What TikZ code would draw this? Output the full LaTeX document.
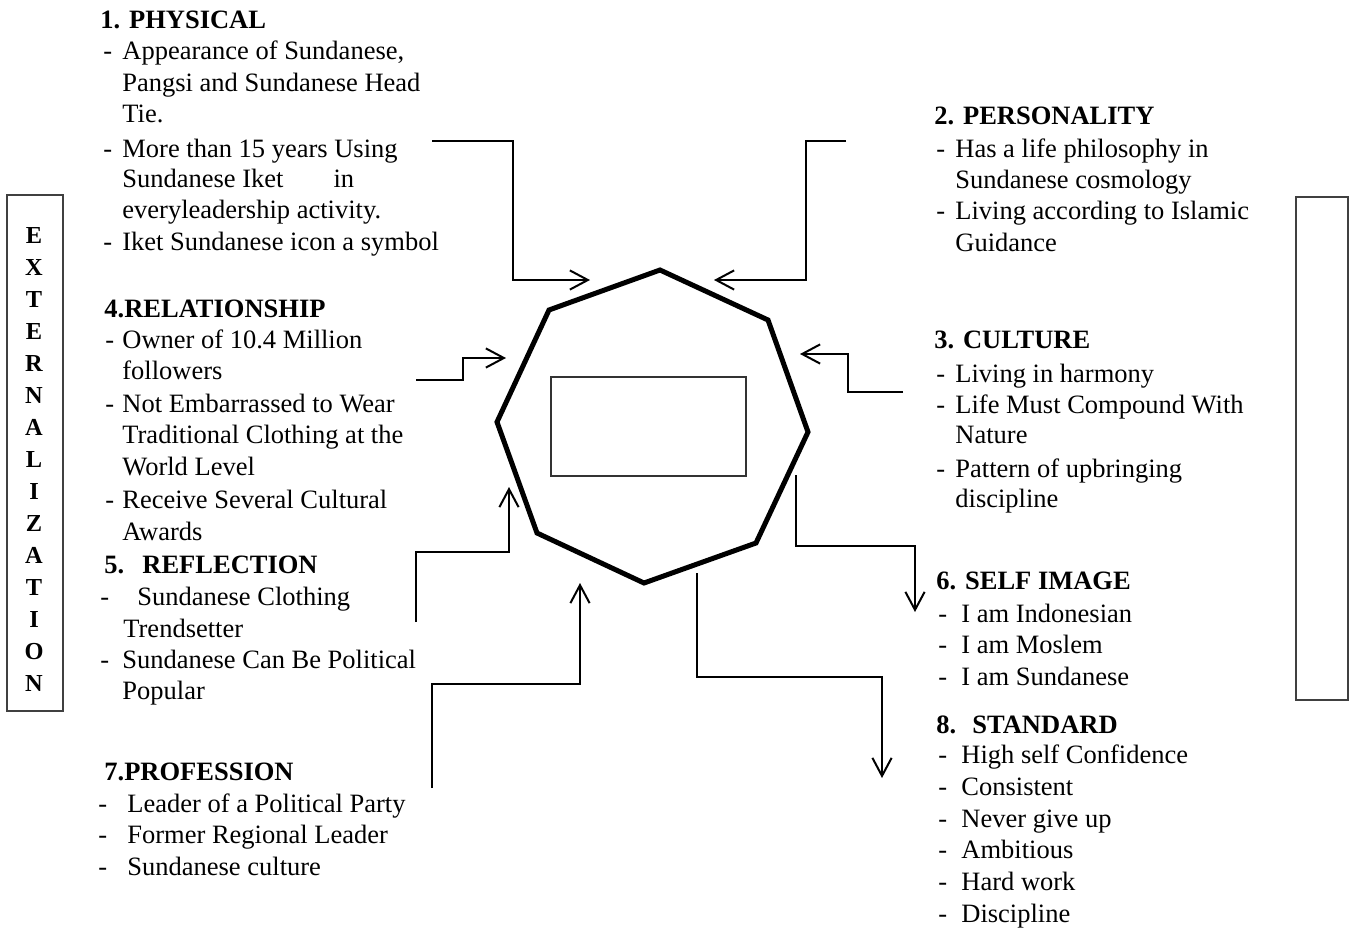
\documentclass[tikz,border=0pt]{standalone}
\usepackage{fontspec}
\setmainfont{Liberation Serif}
\usetikzlibrary{arrows.meta}
\tikzset{
  txt/.style={anchor=base west, inner sep=0pt, font=\fontsize{13.25}{16}\selectfont},
  ttl/.style={anchor=base west, inner sep=0pt, font=\fontsize{13.25}{16}\selectfont\bfseries},
  vlet/.style={anchor=base, inner sep=0pt, font=\fontsize{12.2}{14}\selectfont\bfseries},
  conn/.style={line width=1pt, line join=miter, -{Straight Barb[length=9pt, width=9.6pt, line width=1pt]}},
  sidebox/.style={draw=black!75, line width=0.6pt, inner sep=0pt},
}
\begin{document}
\begin{tikzpicture}[x=0.5pt, y=-0.5pt]
\useasboundingbox (0,0) rectangle (1349,932);

% side boxes
\node[sidebox, minimum width=28pt, minimum height=258pt] (extbox) at (35,453) {};
\node[sidebox, minimum width=26pt, minimum height=251.5pt] (rbox) at (1322,448.5) {};
\foreach \l [count=\i from 0] in {E,X,T,E,R,N,A,L,I,Z,A,T,I,O,N} {
  \node[vlet] (ext\i) at (34,243+32.07*\i) {\l};
}

% octagon
\coordinate (o1) at (660,270);
\coordinate (o2) at (768,320);
\coordinate (o3) at (808,432);
\coordinate (o4) at (756,543);
\coordinate (o5) at (644,583);
\coordinate (o6) at (537,533);
\coordinate (o7) at (497,422);
\coordinate (o8) at (549,310);
\draw[line width=2.5pt, line join=miter] (o1) -- (o2) -- (o3) -- (o4) -- (o5) -- (o6) -- (o7) -- (o8) -- cycle;
\node[draw=black!80, line width=0.6pt, minimum width=97.5pt, minimum height=49.5pt, inner sep=0pt] (core) at (648.5,426.5) {};

% connectors
\coordinate (s1) at (432,141); \coordinate (e1) at (590,280);
\draw[conn] (s1) -- (513,141) -- (513,280) -- (e1);
\coordinate (s2) at (846,141); \coordinate (e2) at (714,280);
\draw[conn] (s2) -- (806,141) -- (806,280) -- (e2);
\coordinate (s3) at (903,392); \coordinate (e3) at (800,354);
\draw[conn] (s3) -- (848,392) -- (848,354) -- (e3);
\coordinate (s4) at (416,380); \coordinate (e4) at (506,358);
\draw[conn] (s4) -- (463,380) -- (463,358) -- (e4);
\coordinate (s5) at (416,622); \coordinate (e5) at (509,487);
\draw[conn] (s5) -- (416,552) -- (509,552) -- (e5);
\coordinate (s6) at (796,475); \coordinate (e6) at (915,612);
\draw[conn] (s6) -- (796,546) -- (915,546) -- (e6);
\coordinate (s7) at (432,788); \coordinate (e7) at (580,583);
\draw[conn] (s7) -- (432,684) -- (580,684) -- (e7);
\coordinate (s8) at (697,573); \coordinate (e8) at (882,778);
\draw[conn] (s8) -- (697,677) -- (882,677) -- (e8);

% block 1
\node[ttl] (t1) at (100,28) {1. PHYSICAL};
\node[txt] (d1a) at (103,59) {-};
\node[txt] (l1a) at (122,59) {Appearance of Sundanese,};
\node[txt] (l1b) at (122,91) {Pangsi and Sundanese Head};
\node[txt] (l1c) at (122,122) {Tie.};
\node[txt] (d1b) at (103,157) {-};
\node[txt] (l1d) at (122,157) {More than 15 years Using};
\node[txt] (l1e) at (122,187) {Sundanese Iket\hspace{25pt}in};
\node[txt] (l1f) at (122,218) {everyleadership activity.};
\node[txt] (d1c) at (103,250) {-};
\node[txt] (l1g) at (122,250) {Iket Sundanese icon a symbol};

% block 2
\node[ttl] (t2) at (934,124) {2. PERSONALITY};
\node[txt] (d2a) at (936,157) {-};
\node[txt] (l2a) at (955,157) {Has a life philosophy in};
\node[txt] (l2b) at (955,188) {Sundanese cosmology};
\node[txt] (d2b) at (936,219) {-};
\node[txt] (l2c) at (955,219) {Living according to Islamic};
\node[txt] (l2d) at (955,251) {Guidance};

% block 3
\node[ttl] (t3) at (934,348) {3. CULTURE};
\node[txt] (d3a) at (936,382) {-};
\node[txt] (l3a) at (955,382) {Living in harmony};
\node[txt] (d3b) at (936,413) {-};
\node[txt] (l3b) at (955,413) {Life Must Compound With};
\node[txt] (l3c) at (955,443) {Nature};
\node[txt] (d3c) at (936,477) {-};
\node[txt] (l3d) at (955,477) {Pattern of upbringing};
\node[txt] (l3e) at (955,507) {discipline};

% block 4
\node[ttl] (t4) at (104,317) {4.RELATIONSHIP};
\node[txt] (d4a) at (105,348) {-};
\node[txt] (l4a) at (122,348) {Owner of 10.4 Million};
\node[txt] (l4b) at (122,379) {followers};
\node[txt] (d4b) at (105,412) {-};
\node[txt] (l4c) at (122,412) {Not Embarrassed to Wear};
\node[txt] (l4d) at (122,443) {Traditional Clothing at the};
\node[txt] (l4e) at (122,475) {World Level};
\node[txt] (d4c) at (105,508) {-};
\node[txt] (l4f) at (122,508) {Receive Several Cultural};
\node[txt] (l4g) at (122,540) {Awards};

% block 5
\node[ttl] (t5) at (104,573) {5.};
\node[ttl] (t5b) at (142,573) {REFLECTION};
\node[txt] (d5a) at (100,605) {-};
\node[txt] (l5a) at (137,605) {Sundanese Clothing};
\node[txt] (l5b) at (123,637) {Trendsetter};
\node[txt] (d5b) at (100,668) {-};
\node[txt] (l5c) at (122,668) {Sundanese Can Be Political};
\node[txt] (l5d) at (122,699) {Popular};

% block 6
\node[ttl] (t6) at (936,589) {6. SELF IMAGE};
\node[txt] (d6a) at (938,622) {-};
\node[txt] (l6a) at (961,622) {I am Indonesian};
\node[txt] (d6b) at (938,653) {-};
\node[txt] (l6b) at (961,653) {I am Moslem};
\node[txt] (d6c) at (938,685) {-};
\node[txt] (l6c) at (961,685) {I am Sundanese};

% block 7
\node[ttl] (t7) at (104,780) {7.PROFESSION};
\node[txt] (d7a) at (98,812) {-};
\node[txt] (l7a) at (127,812) {Leader of a Political Party};
\node[txt] (d7b) at (98,843) {-};
\node[txt] (l7b) at (127,843) {Former Regional Leader};
\node[txt] (d7c) at (98,875) {-};
\node[txt] (l7c) at (127,875) {Sundanese culture};

% block 8
\node[ttl] (t8) at (936,733) {8.};
\node[ttl] (t8b) at (972,733) {STANDARD};
\node[txt] (d8a) at (938,763) {-};
\node[txt] (l8a) at (961,763) {High self Confidence};
\node[txt] (d8b) at (938,795) {-};
\node[txt] (l8b) at (961,795) {Consistent};
\node[txt] (d8c) at (938,827) {-};
\node[txt] (l8c) at (961,827) {Never give up};
\node[txt] (d8d) at (938,858) {-};
\node[txt] (l8d) at (961,858) {Ambitious};
\node[txt] (d8e) at (938,890) {-};
\node[txt] (l8e) at (961,890) {Hard work};
\node[txt] (d8f) at (938,922) {-};
\node[txt] (l8f) at (961,922) {Discipline};
\end{tikzpicture}
\end{document}
